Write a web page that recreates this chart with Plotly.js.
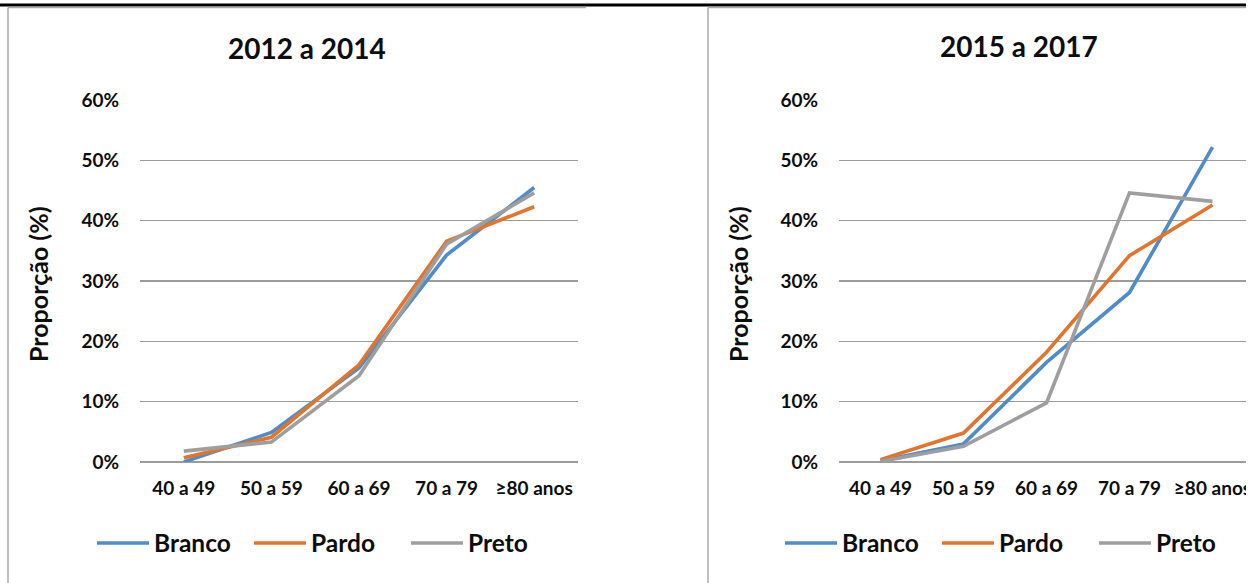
<!DOCTYPE html>
<html>
<head>
<meta charset="utf-8">
<script src="https://cdn.plot.ly/plotly-3.0.1.min.js"></script>
<style>
  html, body { margin: 0; padding: 0; background: #fff; }
  #frame { width: 1246px; height: 583px; overflow: hidden; position: relative; }
  #chart { width: 1300px; height: 583px; }
</style>
</head>
<body>
<div id="frame"><div id="chart"></div></div>
<script>
// Age groups (x categories)
const faixas = ['40 a 49', '50 a 59', '60 a 69', '70 a 79', '≥80 anos'];

// Proportion (%) by race/colour, 2012 a 2014
const branco2012 = [0.0, 4.9, 15.6, 34.3, 45.5];
const pardo2012  = [0.7, 4.1, 16.1, 36.6, 42.3];
const preto2012  = [1.8, 3.3, 14.3, 36.1, 44.6];

// Proportion (%) by race/colour, 2015 a 2017
const branco2015 = [0.2, 3.0, 16.5, 28.1, 52.2];
const pardo2015  = [0.4, 4.8, 18.2, 34.2, 42.6];
const preto2015  = [0.1, 2.6, 9.8, 44.6, 43.2];

const panelTitles = ['2012 a 2014', '2015 a 2017'];
const yTitle = 'Proporção (%)';
const seriesNames = ['Branco', 'Pardo', 'Preto'];
const seriesColors = ['#4f8dca', '#e3742c', '#9e9e9e'];

const W = 1300, H = 583;
const px = v => v / W;
const py = v => 1 - v / H;

const FONT = 'Lato, "Open Sans", sans-serif';
const INK = '#0d0d0d';
const GRID = '#9c9c9c';
const BORDER = '#aaaaaa';

function series(vals, i, xa, ya, leg) {
  return {
    type: 'scatter', mode: 'lines',
    x: faixas, y: vals, name: seriesNames[i],
    xaxis: xa, yaxis: ya, legend: leg,
    line: { color: seriesColors[i], width: 3.6 },
    hoverinfo: 'skip'
  };
}

const data = [
  series(branco2012, 0, 'x', 'y', 'legend'),
  series(pardo2012, 1, 'x', 'y', 'legend'),
  series(preto2012, 2, 'x', 'y', 'legend'),
  series(branco2015, 0, 'x2', 'y2', 'legend2'),
  series(pardo2015, 1, 'x2', 'y2', 'legend2'),
  series(preto2015, 2, 'x2', 'y2', 'legend2')
];

const tickFont = { family: FONT, size: 19, color: INK, weight: 'bold' };

function xAxis(d0, d1, anchor) {
  return {
    domain: [px(d0), px(d1)], anchor: anchor,
    type: 'category', range: [-0.5, 4.5],
    showgrid: false, showline: false, zeroline: false, ticks: '',
    tickfont: tickFont, ticklabelstandoff: 13, fixedrange: true
  };
}
function yAxis(anchor) {
  return {
    domain: [py(462), py(100)], anchor: anchor,
    range: [0, 60], dtick: 10, tick0: 0, ticksuffix: '%',
    showgrid: true, gridcolor: GRID, gridwidth: 1.2,
    zeroline: true, zerolinecolor: GRID, zerolinewidth: 1.2,
    showline: false, ticks: '',
    tickfont: tickFont, ticklabelstandoff: 20, fixedrange: true
  };
}

function legendAt(x0) {
  return {
    orientation: 'h', x: px(x0), xanchor: 'left', y: py(543), yanchor: 'middle',
    font: { family: FONT, size: 24.5, color: INK, weight: 'bold' },
    itemwidth: 52, entrywidth: 90, entrywidthmode: 'pixels',
    bgcolor: 'rgba(0,0,0,0)', borderwidth: 0, tracegroupgap: 0
  };
}

const titleFont = { family: FONT, size: 28, color: INK, weight: 'bold' };
const yTitleFont = { family: FONT, size: 25, color: INK, weight: 'bold' };

const layout = {
  width: W, height: H,
  margin: { l: 0, r: 0, t: 0, b: 0 },
  paper_bgcolor: '#fff', plot_bgcolor: 'rgba(0,0,0,0)',
  showlegend: true,
  xaxis: xAxis(140, 578, 'y'),
  yaxis: yAxis('x'),
  xaxis2: xAxis(839, 1254, 'y2'),
  yaxis2: yAxis('x2'),
  legend: legendAt(92),
  legend2: legendAt(780),
  annotations: [
    { text: panelTitles[0], xref: 'paper', yref: 'paper', x: px(307), y: py(48),
      xanchor: 'center', yanchor: 'middle', showarrow: false, font: titleFont },
    { text: panelTitles[1], xref: 'paper', yref: 'paper', x: px(1019), y: py(46),
      xanchor: 'center', yanchor: 'middle', showarrow: false, font: titleFont },
    { text: yTitle, xref: 'paper', yref: 'paper', x: px(38), y: py(284), textangle: -90,
      xanchor: 'center', yanchor: 'middle', showarrow: false, font: yTitleFont },
    { text: yTitle, xref: 'paper', yref: 'paper', x: px(738), y: py(284), textangle: -90,
      xanchor: 'center', yanchor: 'middle', showarrow: false, font: yTitleFont }
  ],
  shapes: [
    // page rule across the top
    { type: 'line', xref: 'paper', yref: 'paper', x0: 0, x1: 1, y0: py(5), y1: py(5),
      line: { color: '#000', width: 3 } },
    // chart frames (top and left edges)
    { type: 'line', xref: 'paper', yref: 'paper', x0: px(8), x1: px(586), y0: py(7.5), y1: py(7.5),
      line: { color: BORDER, width: 1.5 } },
    { type: 'line', xref: 'paper', yref: 'paper', x0: px(8), x1: px(8), y0: py(7.5), y1: 0,
      line: { color: BORDER, width: 1.5 } },
    { type: 'line', xref: 'paper', yref: 'paper', x0: px(708), x1: 1, y0: py(7.5), y1: py(7.5),
      line: { color: BORDER, width: 1.5 } },
    { type: 'line', xref: 'paper', yref: 'paper', x0: px(708), x1: px(708), y0: py(7.5), y1: 0,
      line: { color: BORDER, width: 1.5 } }
  ]
};

Plotly.newPlot('chart', data, layout, { displayModeBar: false, staticPlot: true })
  .then(function (gd) {
    // longer legend swatches, spanning the legend item width
    gd.querySelectorAll('.legendlines path').forEach(function (p) {
      p.setAttribute('d', 'M5,0h52');
    });
  });
</script>
</body>
</html>
